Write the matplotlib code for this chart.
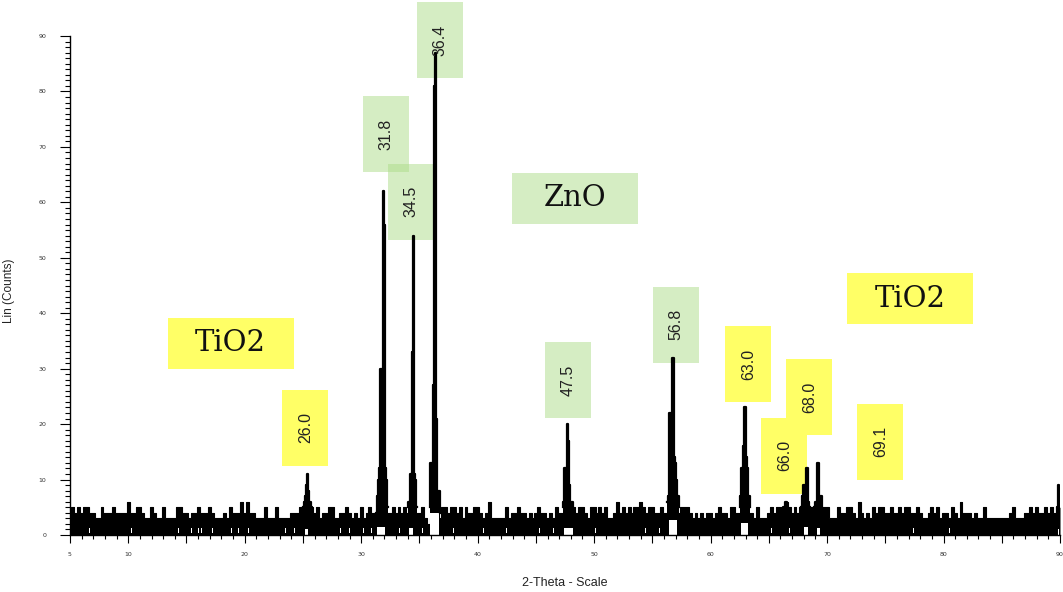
import numpy as np
import matplotlib
matplotlib.use('Agg')
import matplotlib.pyplot as plt
from matplotlib.patches import Rectangle
from matplotlib.ticker import MultipleLocator, FuncFormatter

# top of the noisy baseline, one value every 0.25 deg from 5 to 90
scan_start = 5.0
scan_step = 0.25
band_top = [
    4, 5, 4, 5,  4, 5, 5, 4,  4, 3, 3, 5,  4, 4, 4, 5,  4, 4, 4, 4,   # 5-9
    6, 4, 4, 5,  5, 4, 3, 3,  5, 4, 3, 3,  5, 3, 3, 3,  3, 5, 5, 4,   # 10-14
    4, 3, 4, 4,  5, 4, 4, 4,  5, 4, 3, 3,  3, 4, 3, 5,  4, 4, 4, 6,   # 15-19
    4, 6, 4, 4,  3, 3, 3, 5,  3, 3, 3, 5,  3, 3, 3, 3,  4, 4, 4, 5,   # 20-24
    5, 5, 5, 5,  4, 5, 3, 4,  4, 5, 5, 3,  3, 4, 4, 5,  4, 3, 4, 3,   # 25-29
    5, 3, 4, 5,  4, 4, 4, 4,  4, 4, 4, 5,  4, 5, 4, 5,  4, 4, 4, 4,   # 30-34
    4, 5, 3, 2,  3, 3, 3, 3,  5, 5, 4, 5,  5, 4, 5, 3,  5, 4, 4, 5,   # 35-39
    5, 4, 3, 4,  6, 3, 3, 3,  3, 3, 5, 3,  4, 4, 5, 4,  4, 3, 4, 3,   # 40-44
    4, 5, 4, 4,  3, 4, 3, 5,  4, 4, 4, 4,  4, 5, 4, 5,  5, 4, 3, 5,   # 45-49
    5, 4, 5, 4,  5, 3, 3, 4,  6, 4, 5, 4,  5, 4, 5, 5,  6, 5, 4, 5,   # 50-54
    5, 4, 4, 5,  4, 4, 4, 4,  4, 4, 5, 5,  5, 4, 3, 4,  3, 4, 3, 4,   # 55-59
    4, 3, 4, 5,  4, 4, 3, 5,  5, 4, 4, 4,  4, 4, 4, 3,  5, 3, 3, 3,   # 60-64
    4, 5, 4, 5,  5, 5, 6, 5,  4, 5, 4, 5,  5, 5, 5, 5,  5, 5, 5, 5,   # 65-69
    5, 3, 3, 3,  5, 4, 4, 5,  5, 4, 3, 6,  4, 3, 4, 3,  5, 4, 5, 5,   # 70-74
    4, 4, 5, 4,  4, 5, 4, 5,  5, 4, 4, 5,  4, 3, 3, 4,  5, 4, 5, 3,   # 75-79
    4, 4, 3, 5,  4, 3, 6, 4,  4, 4, 3, 4,  3, 3, 5, 3,  3, 3, 3, 3,   # 80-84
    3, 3, 3, 4,  5, 3, 3, 3,  4, 4, 5, 4,  5, 4, 4, 5,  4, 5, 4, 4,   # 85-89
    5,                                                                 # 90
]

# small white gaps inside the baseline band (2-theta)
band_gaps = [6.7, 10.3, 14.3, 15.4, 16.0, 16.3, 17.2, 18.9, 19.45, 20.3, 23.5, 24.3,
             26.9, 28.2, 29.0, 30.2, 30.9, 33.3, 35.3, 37.9, 39.0, 40.5, 42.5, 45.3,
             46.5, 50.1, 54.4, 55.6, 65.2, 66.8, 71.2, 73.0, 77.4, 80.5, 85.7]

# diffraction peaks: 2-theta and Lin (Counts)
peak_a_x = [25.0, 25.1, 25.2, 25.3, 25.4, 25.5, 25.6, 25.7, 25.8]
peak_a_y = [5, 6, 7, 9, 11, 8, 6, 5, 4]
peak_b_x = [31.3, 31.4, 31.5, 31.6, 31.7, 31.8, 31.9, 32.0, 32.1, 32.2, 32.3]
peak_b_y = [4, 7, 10, 12, 30, 30, 62, 56, 12, 10, 5]
peak_c_x = [34.0, 34.1, 34.2, 34.3, 34.4, 34.5, 34.6, 34.7, 34.8]
peak_c_y = [5, 6, 11, 11, 33, 54, 11, 10, 5]
peak_d_x = [35.9, 36.0, 36.1, 36.2, 36.3, 36.4, 36.5, 36.6, 36.7, 36.8]
peak_d_y = [5, 13, 13, 27, 81, 87, 21, 8, 8, 4]
peak_e_x = [47.3, 47.4, 47.5, 47.6, 47.7, 47.8, 47.9, 48.0, 48.1, 48.2]
peak_e_y = [5, 6, 12, 12, 20, 17, 9, 6, 6, 4]
peak_f_x = [56.3, 56.4, 56.5, 56.6, 56.7, 56.8, 56.9, 57.0, 57.1, 57.2, 57.3]
peak_f_y = [6, 7, 22, 22, 32, 32, 14, 13, 10, 7, 5]
peak_g_x = [62.5, 62.6, 62.7, 62.8, 62.9, 63.0, 63.1, 63.2, 63.3, 63.4]
peak_g_y = [5, 7, 12, 16, 23, 23, 14, 12, 7, 5]
peak_h_x = [66.2, 66.3, 66.4, 66.5, 66.6, 66.7]
peak_h_y = [4, 5, 6, 6, 5, 4]
peak_i_x = [67.8, 67.9, 68.0, 68.1, 68.2, 68.3, 68.4, 68.5]
peak_i_y = [5, 7, 9, 9, 12, 12, 6, 5]
peak_j_x = [68.9, 69.0, 69.1, 69.2, 69.3, 69.4, 69.5, 69.6]
peak_j_y = [5, 6, 6, 13, 13, 7, 7, 5]
peak_k_x = [89.7, 89.8, 89.9, 90.0]
peak_k_y = [4, 5, 9, 7]

# white interior at the foot of the wider peaks: start, end, height
foot_start = [25.15, 31.35, 34.1, 35.95, 47.45, 56.45, 62.65, 68.0, 69.1, 89.8]
foot_end = [25.45, 32.05, 34.45, 36.65, 48.15, 57.15, 63.25, 68.35, 69.4, 89.95]
foot_height = [1.0, 1.5, 1.2, 4.0, 1.2, 2.7, 2.1, 1.5, 1.2, 1.0]

# peak position labels (vertical text in boxes)
label_text = ['26.0', '31.8', '34.5', '36.4', '47.5', '56.8', '63.0', '68.0', '66.0', '69.1']
label_x = [25.21, 32.12, 34.27, 36.80, 47.79, 57.02, 63.24, 68.48, 66.33, 74.57]
label_y = [19.3, 72.3, 60.1, 89.3, 27.9, 37.9, 30.8, 24.9, 14.3, 16.8]
label_phase = ['TiO2', 'ZnO', 'ZnO', 'ZnO', 'ZnO', 'ZnO', 'TiO2', 'TiO2', 'TiO2', 'TiO2']

phase_text = ['TiO2', 'ZnO', 'TiO2']
phase_x = [18.80, 48.35, 77.15]
phase_y = [34.6, 60.7, 42.6]

yellow = '#ffff66'
green = '#addd89'


def box_style(phase):
    if phase == 'ZnO':
        return dict(facecolor=green, alpha=0.5)
    return dict(facecolor=yellow, alpha=1.0)


fig = plt.figure(figsize=(10.63, 5.92), dpi=100)
ax = fig.add_axes([70 / 1063, 57 / 592, 990 / 1063, 499 / 592])

# label boxes behind the pattern
deg_per_px = 1 / 11.65
cnt_per_px = 1 / 5.55
for txt, x, y, ph in zip(label_text, label_x, label_y, label_phase):
    w = 46 * deg_per_px
    h = 76 * cnt_per_px
    ax.add_patch(Rectangle((x - w / 2, y - h / 2), w, h, linewidth=0,
                           zorder=1, clip_on=False, **box_style(ph)))
    ax.text(x, y, txt, rotation=90, ha='center', va='center', fontsize=11.5,
            family='Liberation Sans', color='#222222', zorder=6, clip_on=False)

for txt, x, y in zip(phase_text, phase_x, phase_y):
    w = 126 * deg_per_px
    h = 51 * cnt_per_px
    ax.add_patch(Rectangle((x - w / 2, y - h / 2), w, h, linewidth=0,
                           zorder=1, **box_style(txt)))
    ax.text(x, y, txt, ha='center', va='center', fontsize=21,
            family='DejaVu Serif', color='#111111', zorder=6)

peaks = [(peak_a_x, peak_a_y), (peak_b_x, peak_b_y), (peak_c_x, peak_c_y),
         (peak_d_x, peak_d_y), (peak_e_x, peak_e_y), (peak_f_x, peak_f_y),
         (peak_g_x, peak_g_y), (peak_h_x, peak_h_y), (peak_i_x, peak_i_y),
         (peak_j_x, peak_j_y), (peak_k_x, peak_k_y)]

# baseline noise band
grid = scan_start + scan_step * np.arange(len(band_top))
ax.fill_between(grid, 0, band_top, step='mid', color='black', linewidth=0, zorder=2)
ax.plot(grid, band_top, drawstyle='steps-mid', color='black', linewidth=0.8, zorder=2)
for px, py in peaks:
    ax.fill_between(px, 0, py, step='mid', color='black', linewidth=0, zorder=2)

ax.bar(band_gaps, 0.8, bottom=0.4, width=0.07, color='white', linewidth=0, zorder=3)
for a, b, h in zip(foot_start, foot_end, foot_height):
    ax.fill_between([a, b], 0, h, color='white', linewidth=0, zorder=3)

for px, py in peaks:
    ax.plot(px, py, drawstyle='steps-mid', color='black', linewidth=1.6, zorder=4)

ax.set_xlim(5, 90)
ax.set_ylim(0, 90)
for s in ['top', 'right']:
    ax.spines[s].set_visible(False)
for s in ['left', 'bottom']:
    ax.spines[s].set_linewidth(1.0)
    ax.spines[s].set_zorder(5)

ax.xaxis.set_major_locator(MultipleLocator(5))
ax.xaxis.set_minor_locator(MultipleLocator(1))
ax.xaxis.set_major_formatter(FuncFormatter(
    lambda v, p: f'{v:.0f}' if (v % 10 == 0 or v == 5) else ''))
ax.yaxis.set_major_locator(MultipleLocator(10))
ax.yaxis.set_minor_locator(MultipleLocator(1))
ax.tick_params(axis='x', which='major', length=6, width=0.8, pad=6,
               labelsize=4.5, labelcolor='#333333')
ax.tick_params(axis='x', which='minor', length=3, width=0.8)
ax.tick_params(axis='y', which='major', length=7, width=0.8, pad=10,
               labelsize=4.5, labelcolor='#333333')
ax.tick_params(axis='y', which='minor', length=3.5, width=0.8)

ax.set_xlabel('2-Theta - Scale', fontsize=9, family='Liberation Sans', color='#222222')
ax.set_ylabel('Lin (Counts)', fontsize=8.5, family='Liberation Sans', color='#222222')
ax.xaxis.set_label_coords(0.5, -0.084)
ax.yaxis.set_label_coords(-0.0556, 0.49)

fig.savefig('out.png', dpi=100)
